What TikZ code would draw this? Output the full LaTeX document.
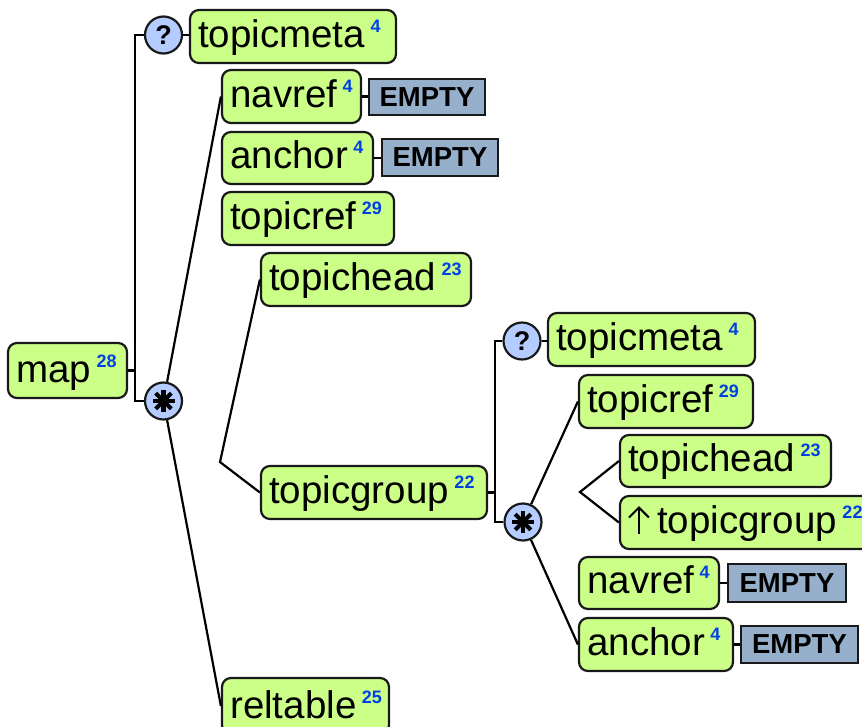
\documentclass[tikz,border=0pt]{standalone}
\usepackage{fontspec}
\setmainfont{Liberation Sans}
\usetikzlibrary{calc}
\definecolor{elemfill}{RGB}{204,255,136}
\definecolor{compfill}{RGB}{180,204,255}
\definecolor{emptyfill}{RGB}{150,176,204}
\definecolor{countblue}{RGB}{0,64,230}
\definecolor{edge}{RGB}{25,25,25}
\newcommand\countfont{\fontsize{18}{18}\selectfont\bfseries\color{countblue}}
\tikzset{
  elembox/.style={draw=edge, line width=2.2pt, fill=elemfill, rounded corners=9pt, inner sep=0pt},
  emptybox/.style={draw=edge, line width=2.2pt, fill=emptyfill, inner sep=0pt,
    font=\fontsize{27.5}{27.5}\selectfont\bfseries},
  compositor/.style={circle, draw=edge, line width=2.2pt, fill=compfill, minimum size=37pt, inner sep=0pt},
  elemtext/.style={anchor=base west, inner sep=0pt, font=\fontsize{38.5}{38.5}\selectfont},
  link/.style={draw=black, line width=2.2pt},
}
% element box: name, x1, y1, x2, y2, label, count
\newcommand\elem[7]{%
  \node[elembox, minimum width={#4pt-#2pt}, minimum height={#5pt-#3pt}]
    (#1) at ({(#2+#4)/2},{(#3+#5)/2}) {};
  \node[elemtext] (#1-t) at (#2+8,#5-16) {#6\hspace{5.5pt}\raisebox{15pt}{\countfont #7}};
}
% EMPTY content marker: name, x1, y1, x2, y2
\newcommand\emptymark[5]{%
  \node[emptybox, minimum width={#4pt-#2pt}, minimum height={#5pt-#3pt}]
    (#1) at ({(#2+#4)/2},{(#3+#5)/2}) {EMPTY};
}
% optional / choice compositors
\newcommand\optmark[3]{%
  \node[compositor, font=\fontsize{27}{27}\selectfont\bfseries] (#1) at (#2,#3) {?};
}
\newcommand\choicemark[3]{%
  \node[compositor] (#1) at (#2,#3) {};
  \foreach \ang in {0,45,90,135}
    \draw[line width=4.2pt] ($(#1)+(\ang:11)$) -- ($(#1)+(\ang+180:11)$);
  \fill[black] (#1) circle (4.5);
}
\begin{document}
\begin{tikzpicture}[x=1pt, y=-1pt]
\useasboundingbox (0,0) rectangle (862,726);
\clip (0,0) rectangle (862,726);

% junction points of the connectors
\coordinate (sp1) at (135,370.5);
\coordinate (j1) at (220,462);
\coordinate (sp2) at (495,492.5);
\coordinate (j2) at (580,492);

% root and its first sequence
\elem{map}{8}{343}{127}{398}{map}{28}
\optmark{q1}{163.5}{35}
\choicemark{s1}{163.5}{401}
\elem{tm1}{190}{10}{396}{63}{topicmeta}{4}

\elem{nr1}{222}{70}{361}{123}{navref}{4}
\emptymark{e1}{369}{79}{485}{115}
\elem{an1}{222}{132}{373}{184}{anchor}{4}
\emptymark{e2}{382}{139}{498}{176}
\elem{tr1}{222}{192}{394}{245}{topicref}{29}
\elem{th1}{261}{253}{471}{306}{topichead}{23}
\elem{tg1}{261}{466}{487}{519}{topicgroup}{22}
\elem{rt}{222}{678}{389}{734}{reltable}{25}

% nested topicgroup content
\optmark{q2}{522}{341}
\choicemark{s2}{523}{522}
\elem{tm2}{548}{313}{755}{366}{topicmeta}{4}
\elem{tr2}{579}{375}{753}{428}{topicref}{29}
\elem{th2}{620}{435}{831}{487}{topichead}{23}
\elem{tg2}{620}{496}{876}{549}{\hspace{29pt}topicgroup}{22}
\elem{nr2}{579}{557}{719}{609}{navref}{4}
\emptymark{e3}{728}{564}{846}{602}
\elem{an2}{579}{618}{733}{671}{anchor}{4}
\emptymark{e4}{741}{626}{858}{663}

% recursion arrow in front of the second topicgroup
\draw[line width=2pt] ($(tg2.west)+(20,11)$) -- ($(tg2.west)+(20,-15)$);
\draw[line width=2pt, line join=miter] ($(tg2.west)+(10,-5)$) -- ($(tg2.west)+(20,-15)$) -- ($(tg2.west)+(30,-5)$);

\draw[link] (map.east) -- (sp1);
\draw[link] (q1.west) -| (sp1) |- (s1.west);
\draw[link] (q1.east) -- (q1.east -| tm1.west);
\draw[link] (s1) -- (nr1.west);
\draw[link] (s1) -- (rt.west);
\draw[link] (th1.west) -- (j1) -- (tg1.west);
\draw[link] (nr1.east) -- (nr1.east -| e1.west);
\draw[link] (an1.east) -- (an1.east -| e2.west);

\draw[link] (tg1.east) -- (sp2);
\draw[link] (q2.west) -| (sp2) |- (s2.west);
\draw[link] (q2.east) -- (q2.east -| tm2.west);
\draw[link] (s2) -- (tr2.west);
\draw[link] (s2) -- (an2.west);
\draw[link] (th2.west) -- (j2) -- (tg2.west);
\draw[link] (nr2.east) -- (nr2.east -| e3.west);
\draw[link] (an2.east) -- (an2.east -| e4.west);
\end{tikzpicture}
\end{document}
